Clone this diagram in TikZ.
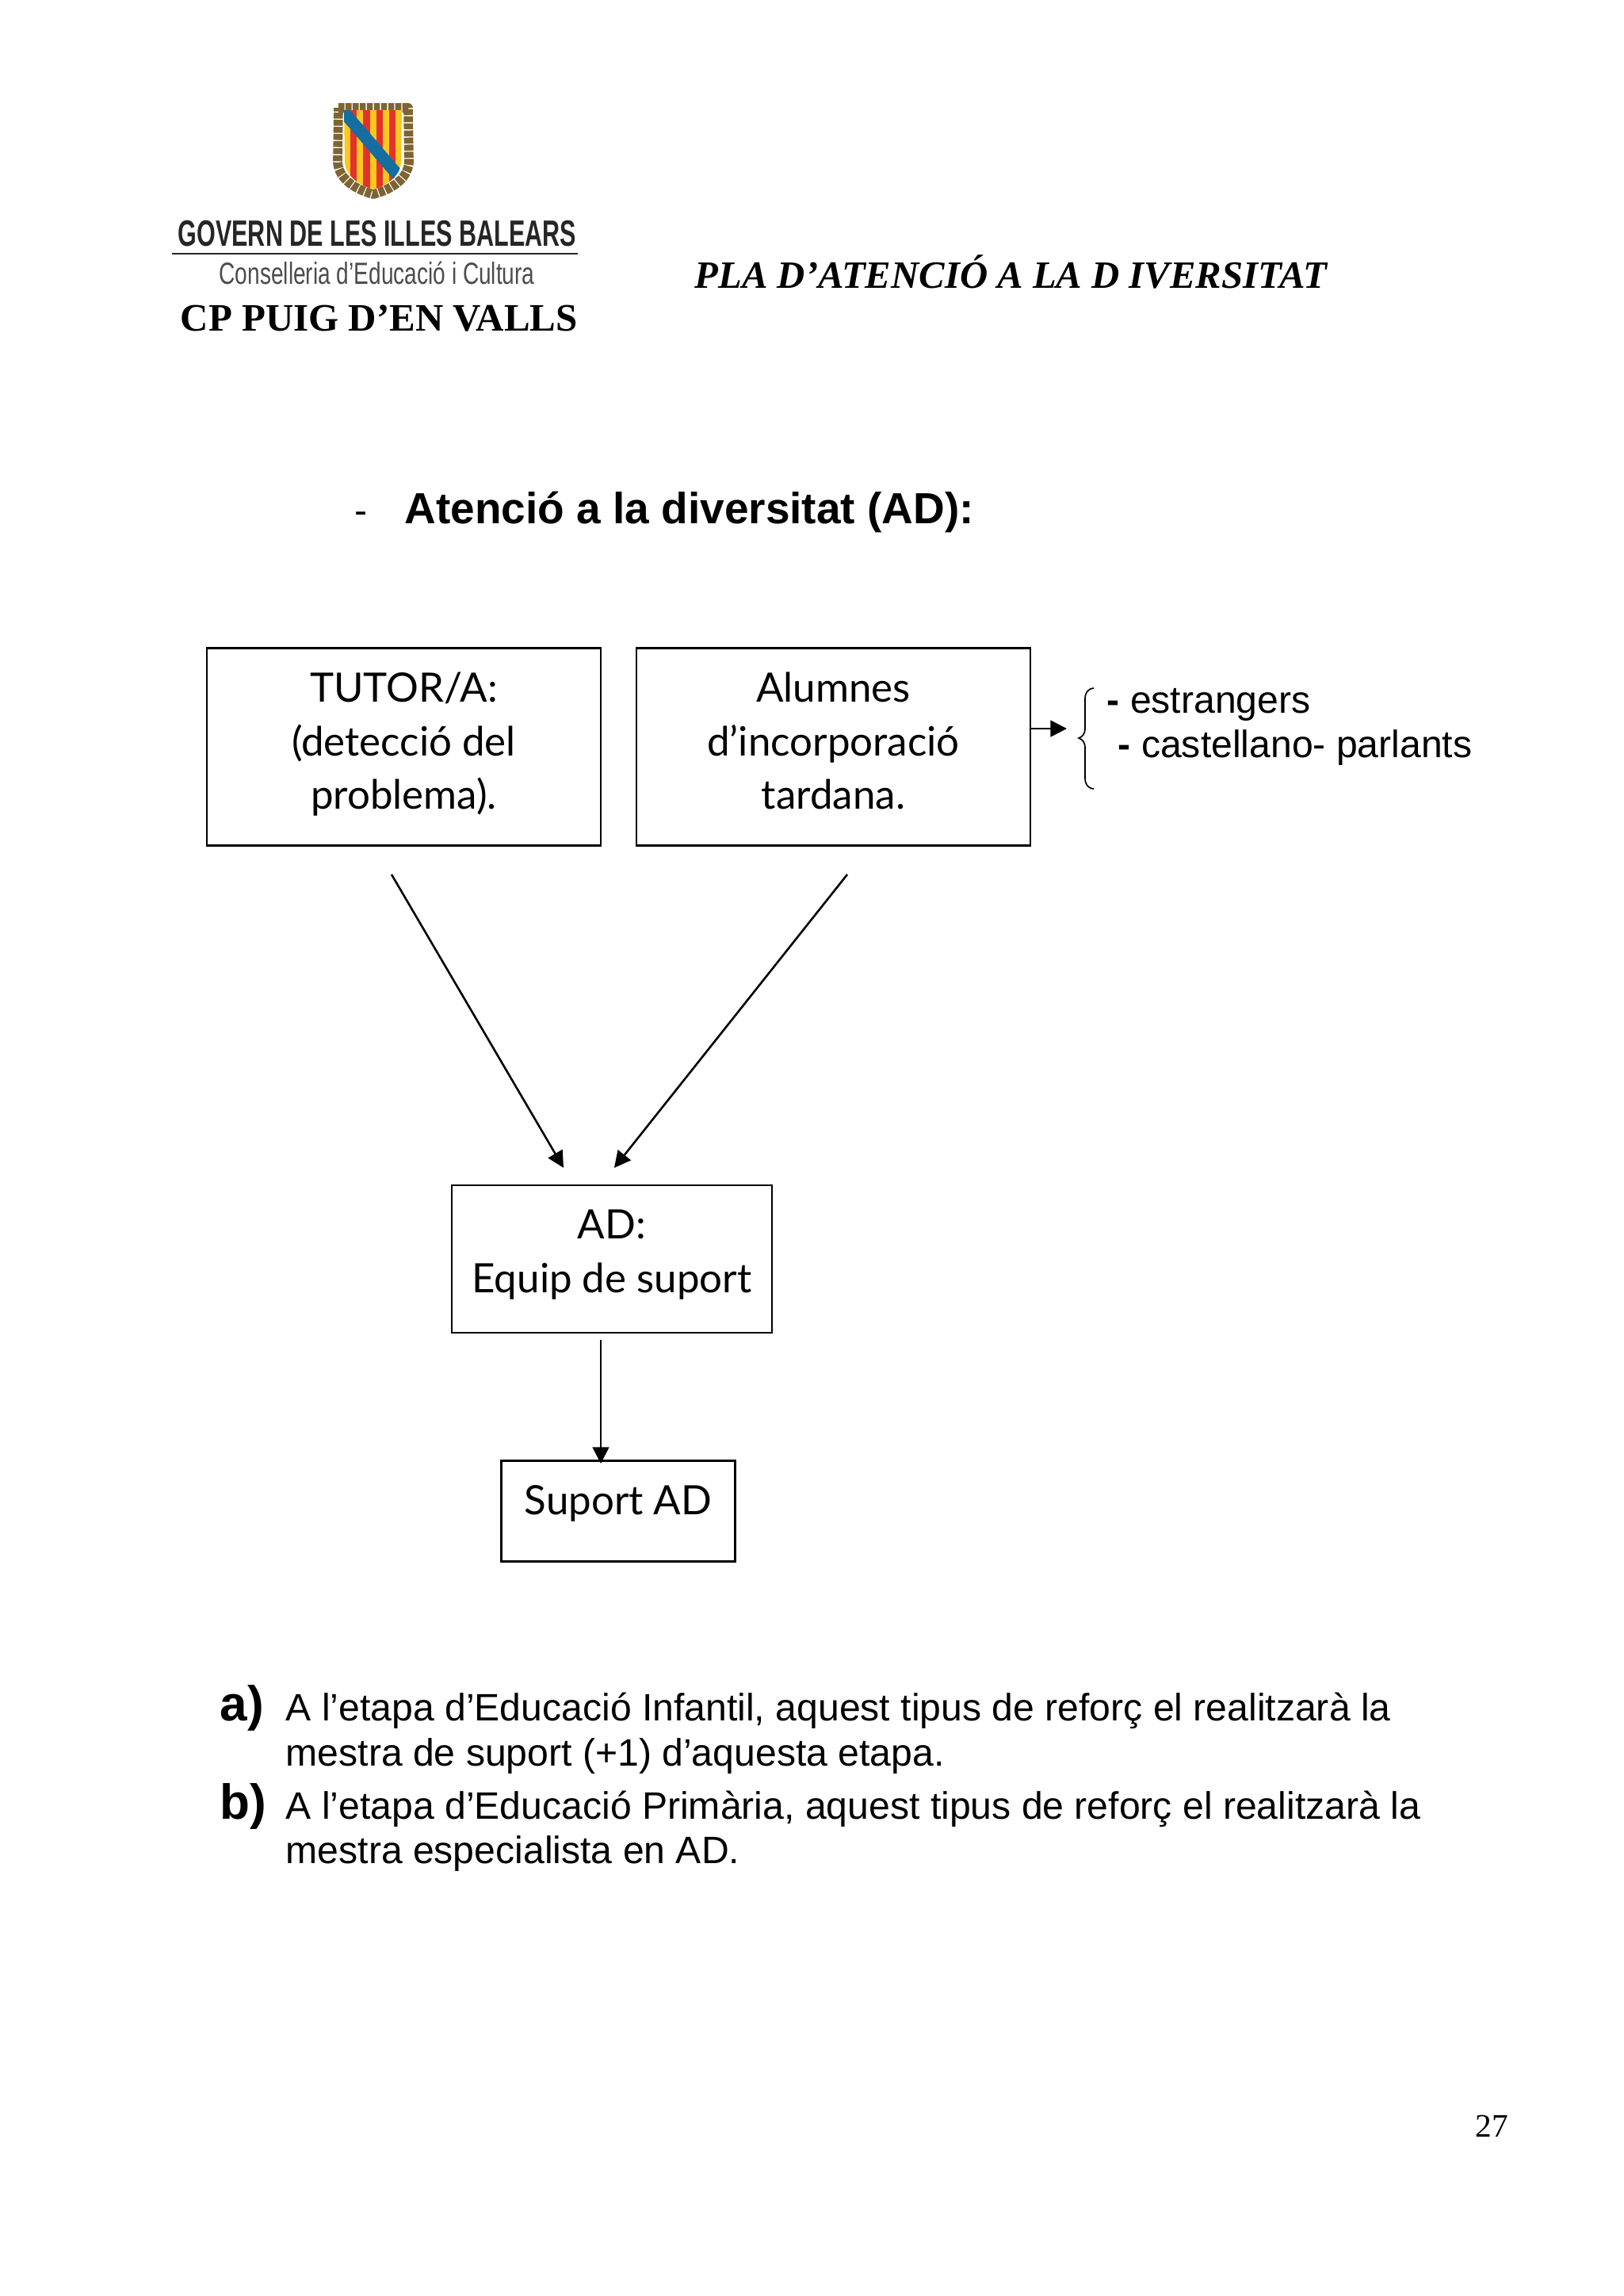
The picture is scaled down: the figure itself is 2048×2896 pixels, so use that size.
\documentclass[tikz,border=0pt]{standalone}
\usepackage{fontspec}
\setmainfont{Liberation Sans}
\newfontfamily\timesfont{Liberation Serif}
\newfontfamily\handfont{Lato}
\usetikzlibrary{arrows.meta}
\definecolor{shieldred}{RGB}{226,50,44}
\definecolor{shieldyellow}{RGB}{250,200,30}
\definecolor{shieldblue}{RGB}{20,110,160}
\definecolor{shieldgold}{RGB}{125,100,50}
\tikzset{
    flowbox/.style={draw,line width=0.7pt,inner sep=0pt,align=center,font=\handfont\fontsize{14.8}{19.6}\selectfont},
    flowarrow/.style={line width=0.75pt,-{Triangle[length=6pt,width=6pt]}},
    bodytext/.style={anchor=base west,inner sep=0pt,font=\fontsize{13.96}{16}\selectfont},
    bigletter/.style={anchor=base west,inner sep=0pt,font=\bfseries\fontsize{18}{20}\selectfont}
}
\begin{document}
\begin{tikzpicture}[x=0.29pt,y=-0.29pt]
    \useasboundingbox (0,0) rectangle (2048,2896);

    % logo
    \draw[shieldgold,line width=3.4pt,line join=round,dash pattern=on 2.2pt off 0.4pt]
        (427,136) -- (515,136) -- (516,205) .. controls (514,228) and (490,240) .. (471,245) .. controls (452,240) and (428,228) .. (426,205) -- cycle;
    \begin{scope}
        \clip (434,139) -- (507,139) -- (506,205) .. controls (505,222) and (488,234) .. (471,239) .. controls (454,234) and (436,222) .. (435,205) -- cycle;
        \fill[shieldyellow] (430,135) rectangle (510,245);
        \foreach \stripex in {442,458.4,474.6,490.8}
            \fill[shieldred] (\stripex,135) rectangle ++(8.1,110);
        \draw[shieldblue,line width=4.4pt] (430,137) -- (508,228);
    \end{scope}
    \node[anchor=base west,inner sep=0pt,font=\bfseries\fontsize{13.4}{15}\selectfont,color=black!85] (govern) at (224,311) {\scalebox{0.661}[1]{GOVERN DE LES ILLES BALEARS}};
    \coordinate (ruleleft) at (217,320);
    \coordinate (ruleright) at (729,320);
    \draw[line width=0.7pt,black!85] (ruleleft) -- (ruleright);
    \node[anchor=base west,inner sep=0pt,font=\fontsize{11.2}{13}\selectfont,color=black!70] (conselleria) at (276,359) {\scalebox{0.727}[1]{Conselleria d'Educació i Cultura}};
    \node[anchor=base west,inner sep=0pt,font=\timesfont\bfseries\fontsize{14.2}{16}\selectfont] (schoolname) at (227,418) {CP PUIG D’EN VALLS};
    \node[anchor=base west,inner sep=0pt,font=\timesfont\bfseries\itshape\fontsize{14.13}{16}\selectfont] (plantitle) at (876,364) {PLA D’ATENCIÓ A LA D IVERSITAT};

    % title
    \node[bodytext] (titledash) at (447,660) {-};
    \node[bodytext,font=\bfseries\fontsize{15.95}{18}\selectfont] (title) at (510,660) {Atenció a la diversitat (AD):};

    % boxes
    \node[flowbox,minimum width=144pt,text height=59pt,text depth=13.2pt] (tutor) at (509.5,942) {TUTOR/A:\\(detecció del\\problema).};
    \node[flowbox,minimum width=144pt,text height=59pt,text depth=13.2pt] (alumnes) at (1051.5,942) {Alumnes\\d’incorporació\\tardana.};
    \node[flowbox,minimum width=117pt,text height=39.2pt,text depth=14.8pt] (ad) at (772,1588) {AD:\\Equip de suport};
    \node[flowbox,minimum width=85.5pt,text height=19.8pt,text depth=17pt] (suport) at (780,1906) {Suport AD};

    % arrows
    \coordinate (tutorout) at (494,1103);
    \coordinate (tutorend) at (711,1473);
    \coordinate (alumnesout) at (1069,1103);
    \coordinate (alumnesend) at (775,1473);
    \coordinate (adout) at (758,1690);
    \coordinate (suportin) at (758,1846);
    \coordinate (listout) at (1300,919);
    \coordinate (listin) at (1346,919);
    \draw[flowarrow] (tutorout) -- (tutorend);
    \draw[flowarrow] (alumnesout) -- (alumnesend);
    \draw[flowarrow] (adout) -- (suportin);
    \draw[flowarrow] (listout) -- (listin);

    % brace
    \draw[line width=0.5pt] (1380,868) .. controls (1372,869) and (1369,874) .. (1369,882) -- (1369,918) .. controls (1369,926) and (1366,929) .. (1361,931) .. controls (1366,933) and (1369,936) .. (1369,944) -- (1369,981) .. controls (1369,989) and (1372,994) .. (1380,995);

    \node[bodytext] (estrangers) at (1396,899) {\textbf{-} estrangers};
    \node[bodytext] (parlants) at (1410,955) {\textbf{-} castellano- parlants};

    % text below
    \node[bigletter] (itema) at (277,2170) {a)};
    \node[bodytext] (itemaone) at (360,2170) {A l’etapa d’Educació Infantil, aquest tipus de reforç el realitzarà la};
    \node[bodytext] (itematwo) at (360,2227) {mestra de suport (+1) d’aquesta etapa.};
    \node[bigletter] (itemb) at (277,2294) {b)};
    \node[bodytext] (itembone) at (360,2294) {A l’etapa d’Educació Primària, aquest tipus de reforç el realitzarà la};
    \node[bodytext] (itembtwo) at (360,2350) {mestra especialista en AD.};

    \node[anchor=base west,inner sep=0pt,font=\timesfont\fontsize{12}{14}\selectfont] (pagenumber) at (1861,2695) {27};
\end{tikzpicture}
\end{document}
